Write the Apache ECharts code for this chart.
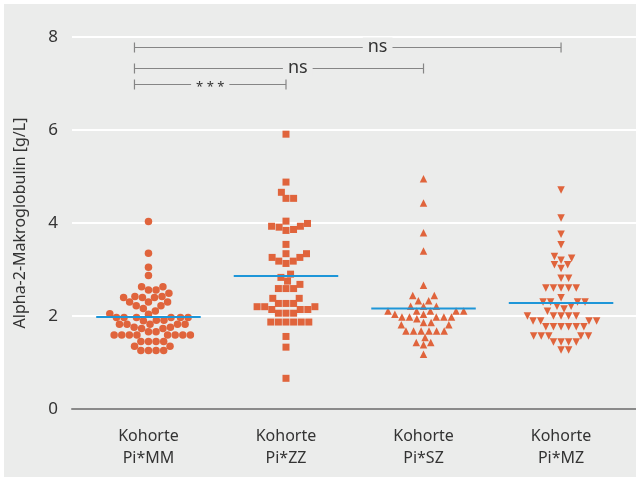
<!DOCTYPE html>
<html>
<head>
<meta charset="utf-8">
<script src="https://cdn.jsdelivr.net/npm/echarts@6/dist/echarts.min.js"></script>
<style>
  html, body { margin: 0; padding: 0; background: #fff; }
  #chart { position: absolute; left: 4px; top: 4px; width: 632px; height: 473px; }
</style>
</head>
<body>
<div id="chart"></div>
<script>
// categories and values
const categories = ["Kohorte\nPi*MM", "Kohorte\nPi*ZZ", "Kohorte\nPi*SZ", "Kohorte\nPi*MZ"];
const yTicks = [0, 2, 4, 6, 8];

const valuesMM = [4.03, 3.35, 3.05, 2.87, 2.63, 2.63, 2.56, 2.56, 2.49, 2.42, 2.40, 2.40, 2.40, 2.42,
  2.30, 2.30, 2.30, 2.22, 2.22, 2.16, 2.11, 2.04, 2.05, 1.97, 1.97, 1.97, 1.97, 1.97, 1.97,
  1.91, 1.91, 1.90, 1.82, 1.82, 1.82, 1.82, 1.82, 1.76, 1.76, 1.73, 1.73, 1.66, 1.66,
  1.59, 1.59, 1.59, 1.59, 1.59, 1.59, 1.59, 1.59, 1.45, 1.45, 1.45, 1.45, 1.35, 1.35,
  1.26, 1.26, 1.26, 1.26];
const valuesZZ = [5.91, 4.88, 4.66, 4.53, 4.53, 4.04, 3.93, 3.91, 3.84, 3.86, 3.93, 3.99, 3.54,
  3.34, 3.34, 3.26, 3.26, 3.18, 3.18, 3.13, 2.90, 2.83, 2.75, 2.68, 2.59, 2.59, 2.59,
  2.38, 2.38, 2.27, 2.27, 2.27, 2.20, 2.20, 2.20, 2.14, 2.14, 2.14, 2.06, 2.06, 2.06,
  1.87, 1.87, 1.87, 1.87, 1.87, 1.87, 1.56, 1.33, 0.66];
const valuesSZ = [4.95, 4.43, 3.79, 3.40, 2.66, 2.44, 2.44, 2.33, 2.33, 2.21, 2.21, 2.21,
  2.11, 2.11, 2.11, 2.11, 2.11, 2.04, 2.04, 1.98, 1.98, 1.98, 1.98, 1.98, 1.94,
  1.86, 1.86, 1.81, 1.81, 1.68, 1.68, 1.68, 1.68, 1.68, 1.68, 1.54, 1.43, 1.43, 1.38, 1.18];
const valuesMZ = [4.71, 4.11, 3.76, 3.53, 3.24, 3.20, 3.28, 3.10, 3.10, 3.02, 2.81, 2.81,
  2.60, 2.60, 2.60, 2.60, 2.60, 2.39, 2.30, 2.30, 2.30, 2.30, 2.21, 2.21, 2.15, 2.10,
  2.00, 2.00, 2.00, 2.00, 2.00, 1.89, 1.89, 1.89, 1.89, 1.77, 1.77, 1.77, 1.77, 1.77, 1.77,
  1.57, 1.57, 1.57, 1.57, 1.57, 1.44, 1.44, 1.44, 1.44, 1.27, 1.27];
const medians = [1.98, 2.86, 2.16, 2.28];

// significance brackets: from group, to group, height, text
const brackets = [
  { from: 0, to: 3, y: 7.79, text: "ns", labelPos: 0.57 },
  { from: 0, to: 2, y: 7.34, text: "ns", labelPos: 0.565 },
  { from: 0, to: 1, y: 6.99, text: "* * *", labelPos: 0.5 },
];

const groups = [valuesMM, valuesZZ, valuesSZ, valuesMZ];
const symbols = ["circle", "rect", "triangle", "triangle"];
const rotations = [0, 0, 0, 180];

const pxPerX = 137.5;
const pxPerY = 46.5;
const dotGap = 7.6;
const orange = "#e0643c";
const bg = "#ebeceb";
const font = "Noto Sans";

// simple beeswarm: each point goes to the free spot closest to the center
function swarm(values) {
  const order = values.map((v, i) => i).sort((a, b) => values[a] - values[b]);
  const placed = [];
  const out = new Array(values.length);
  order.forEach((i) => {
    const y = values[i] * pxPerY;
    const cands = [0];
    placed.forEach((p) => {
      const dy = Math.abs(p.y - y);
      if (dy < dotGap) {
        const dx = Math.sqrt(dotGap * dotGap - dy * dy);
        cands.push(p.x + dx, p.x - dx);
      }
    });
    cands.sort((a, b) => Math.abs(a) - Math.abs(b));
    let x = 0;
    for (const c of cands) {
      if (placed.every((p) => (p.x - c) ** 2 + (p.y - y) ** 2 >= dotGap * dotGap - 0.01)) {
        x = c;
        break;
      }
    }
    placed.push({ x, y });
    out[i] = x / pxPerX;
  });
  return out;
}

const series = [];

groups.forEach((vals, g) => {
  const offs = swarm(vals);
  series.push({
    type: "scatter",
    symbol: symbols[g],
    symbolRotate: rotations[g],
    symbolSize: g === 0 ? 7.5 : g === 1 ? 7 : 7.5,
    itemStyle: { color: orange, opacity: 1 },
    data: vals.map((v, i) => [g + offs[i], v]),
    z: 3,
  });
});

medians.forEach((m, g) => {
  series.push({
    type: "line",
    symbol: "none",
    lineStyle: { color: "#1e96d8", width: 2 },
    data: [[g - 0.38, m], [g + 0.38, m]],
    z: 4,
  });
});

series.push({
  type: "custom",
  data: brackets.map((b) => [b.from, b.y]),
  renderItem(params, api) {
    const b = brackets[params.dataIndex];
    const p1 = api.coord([b.from, b.y]);
    const p2 = api.coord([b.to, b.y]);
    const x1 = p1[0] - 14;
    const x2 = p2[0];
    const y = Math.round(p1[1]) + 0.5;
    const tx = x1 + (x2 - x1) * b.labelPos;
    const ls = { stroke: "#858585", lineWidth: 1.2 };
    return {
      type: "group",
      children: [
        { type: "line", shape: { x1: x1, y1: y, x2: x2, y2: y }, style: ls },
        { type: "line", shape: { x1: x1, y1: y - 5, x2: x1, y2: y + 5 }, style: ls },
        { type: "line", shape: { x1: x2, y1: y - 5, x2: x2, y2: y + 5 }, style: ls },
        {
          type: "text",
          x: tx,
          y: b.text === "ns" ? y - 1 : y + 3,
          style: {
            text: b.text,
            fill: "#333",
            font: (b.text === "ns" ? "18px " : "13px ") + font,
            align: "center",
            verticalAlign: "middle",
            backgroundColor: bg,
            padding: [0, 5],
          },
        },
      ],
    };
  },
  z: 5,
});

const chart = echarts.init(document.getElementById("chart"));
chart.setOption({
  backgroundColor: bg,
  animation: false,
  textStyle: { fontFamily: font },
  grid: { left: 68, right: 0, top: 33, bottom: 68 },
  xAxis: {
    type: "value",
    min: -0.556,
    max: 3.545,
    splitLine: { show: false },
    axisTick: { show: false },
    axisLine: { show: true, lineStyle: { color: "#8a8a8a", width: 2 } },
    axisLabel: {
      customValues: [0, 1, 2, 3],
      formatter: (v) => categories[Math.round(v)],
      color: "#333",
      fontSize: 16,
      lineHeight: 22,
      margin: 16,
      fontFamily: font,
    },
  },
  yAxis: {
    type: "value",
    min: yTicks[0],
    max: yTicks[yTicks.length - 1],
    interval: 2,
    name: "Alpha-2-Makroglobulin [g/L]",
    nameLocation: "middle",
    nameGap: 44,
    nameTextStyle: { color: "#333", fontSize: 16, fontFamily: font },
    axisLine: { show: false },
    axisTick: { show: false },
    axisLabel: { color: "#333", fontSize: 17, margin: 14, fontFamily: font },
    splitLine: { lineStyle: { color: "#ffffff", width: 2 } },
  },
  series: series,
});
</script>
</body>
</html>
